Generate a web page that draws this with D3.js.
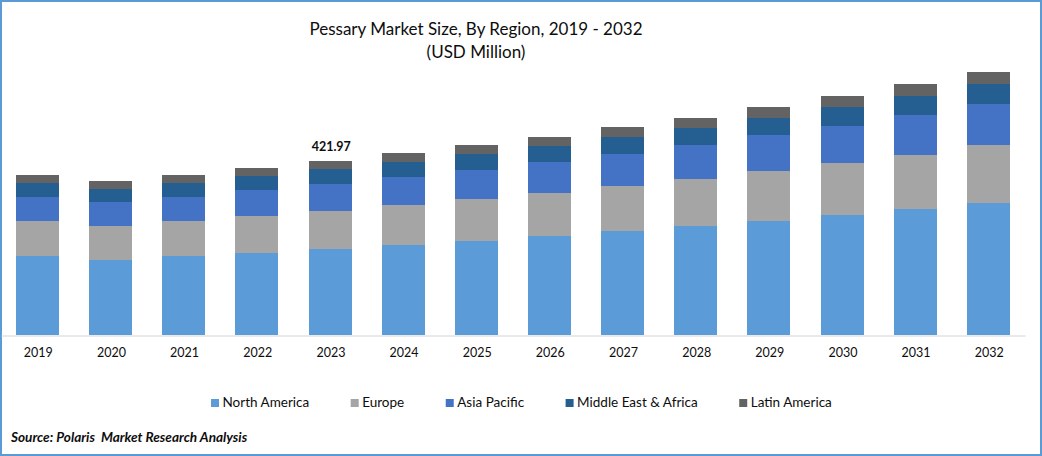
<!DOCTYPE html>
<html>
<head>
<meta charset="utf-8">
<script src="https://cdn.jsdelivr.net/npm/d3@7/dist/d3.min.js"></script>
<style>
html,body{margin:0;padding:0;background:#fff;overflow:hidden}
svg{display:block}
text{font-family:Lato,"Open Sans",sans-serif;fill:#0d0d0d}
</style>
</head>
<body>
<svg id="chart" width="1042" height="456"></svg>
<script>
const years = ["2019","2020","2021","2022","2023","2024","2025","2026","2027","2028","2029","2030","2031","2032"];
const northAmerica = [191.6,181.9,191.6,198.9,208.6,218.3,228.0,240.1,252.2,264.3,276.5,291.0,305.6,320.1];
const europe       = [84.9,82.5,84.9,89.7,92.2,97.0,101.9,104.3,109.1,114.0,121.3,126.1,131.0,140.7];
const asiaPacific  = [58.2,58.2,58.2,63.1,65.5,67.9,70.3,75.2,77.6,82.5,87.3,89.7,97.0,99.4];
const middleEast   = [34.0,31.5,34.0,34.0,36.4,36.4,38.8,38.8,41.2,41.2,41.2,46.1,46.1,48.5];
const latinAmerica = [19.4,19.4,19.4,19.4,19.27,21.8,21.8,21.8,24.3,24.3,26.7,26.7,29.1,29.1];
const seriesNames  = ["North America","Europe","Asia Pacific","Middle East & Africa","Latin America"];
const seriesColors = ["#5b9bd7","#a5a5a5","#4472c4","#255e91","#636363"];
const annotatedYear = "2023";
const annotatedValue = "421.97";
const titleLines = ["Pessary Market Size, By Region, 2019 - 2032","(USD Million)"];
const sourceText = "Source: Polaris  Market Research Analysis";

const seriesValues = [northAmerica,europe,asiaPacific,middleEast,latinAmerica];
const rows = years.map((y,i)=>{
  const r={year:y};
  seriesNames.forEach((n,k)=>{r[n]=seriesValues[k][i];});
  return r;
});

const svg = d3.select("#chart");
const W=1042,H=456;

svg.append("rect").attr("x",1).attr("y",1).attr("width",W-2).attr("height",H-2)
  .attr("fill","#fff").attr("stroke","#5b9bd5").attr("stroke-width",2);

const x = d3.scaleBand().domain(years).range([0.9,1025]).paddingInner(0.412).paddingOuter(0.206);
const y = d3.scaleLinear().domain([0,421.97]).range([335,161]);

const stacked = d3.stack().keys(seriesNames)(rows);

svg.append("g").selectAll("g").data(stacked).join("g")
  .attr("fill",(d,i)=>seriesColors[i])
  .selectAll("rect").data(d=>d).join("rect")
  .attr("x",d=>x(d.data.year))
  .attr("width",x.bandwidth())
  .attr("y",d=>y(d[1]))
  .attr("height",d=>y(d[0])-y(d[1]))
  .attr("shape-rendering","crispEdges");

const axis = svg.append("g").attr("transform","translate(0,335.5)")
  .call(d3.axisBottom(x).tickSize(0).tickPadding(13));
axis.select(".domain").attr("stroke","#d4d4d4").attr("stroke-width",1);
axis.selectAll("text").attr("dx",0.8).style("font-family","Lato,sans-serif").style("font-size","12.5px").style("fill","#0d0d0d");

const top2023 = rows.find(r=>r.year===annotatedYear);
svg.append("text")
  .attr("x",x(annotatedYear)+x.bandwidth()/2+1.2)
  .attr("y",y(d3.sum(seriesNames,n=>top2023[n]))-10)
  .attr("text-anchor","middle").attr("font-size",12.5).attr("font-weight",700)
  .text(annotatedValue);

svg.selectAll(".title").data(titleLines).join("text").attr("class","title")
  .attr("x",476).attr("y",(d,i)=>35+i*23)
  .attr("text-anchor","middle").attr("font-size",17).text(d=>d);

let lx=211;
seriesNames.forEach((n,i)=>{
  svg.append("rect").attr("x",lx).attr("y",399).attr("width",8).attr("height",8).attr("fill",seriesColors[i]);
  const t=svg.append("text").attr("x",lx+11.5).attr("y",407).attr("font-size",13.5).text(n);
  lx+=11.5+t.node().getComputedTextLength()+41.5;
});

svg.append("text").attr("x",11).attr("y",442).attr("font-size",13.6)
  .attr("font-weight",700).attr("font-style","italic").attr("xml:space","preserve")
  .style("white-space","pre").text(sourceText);
</script>
</body>
</html>
